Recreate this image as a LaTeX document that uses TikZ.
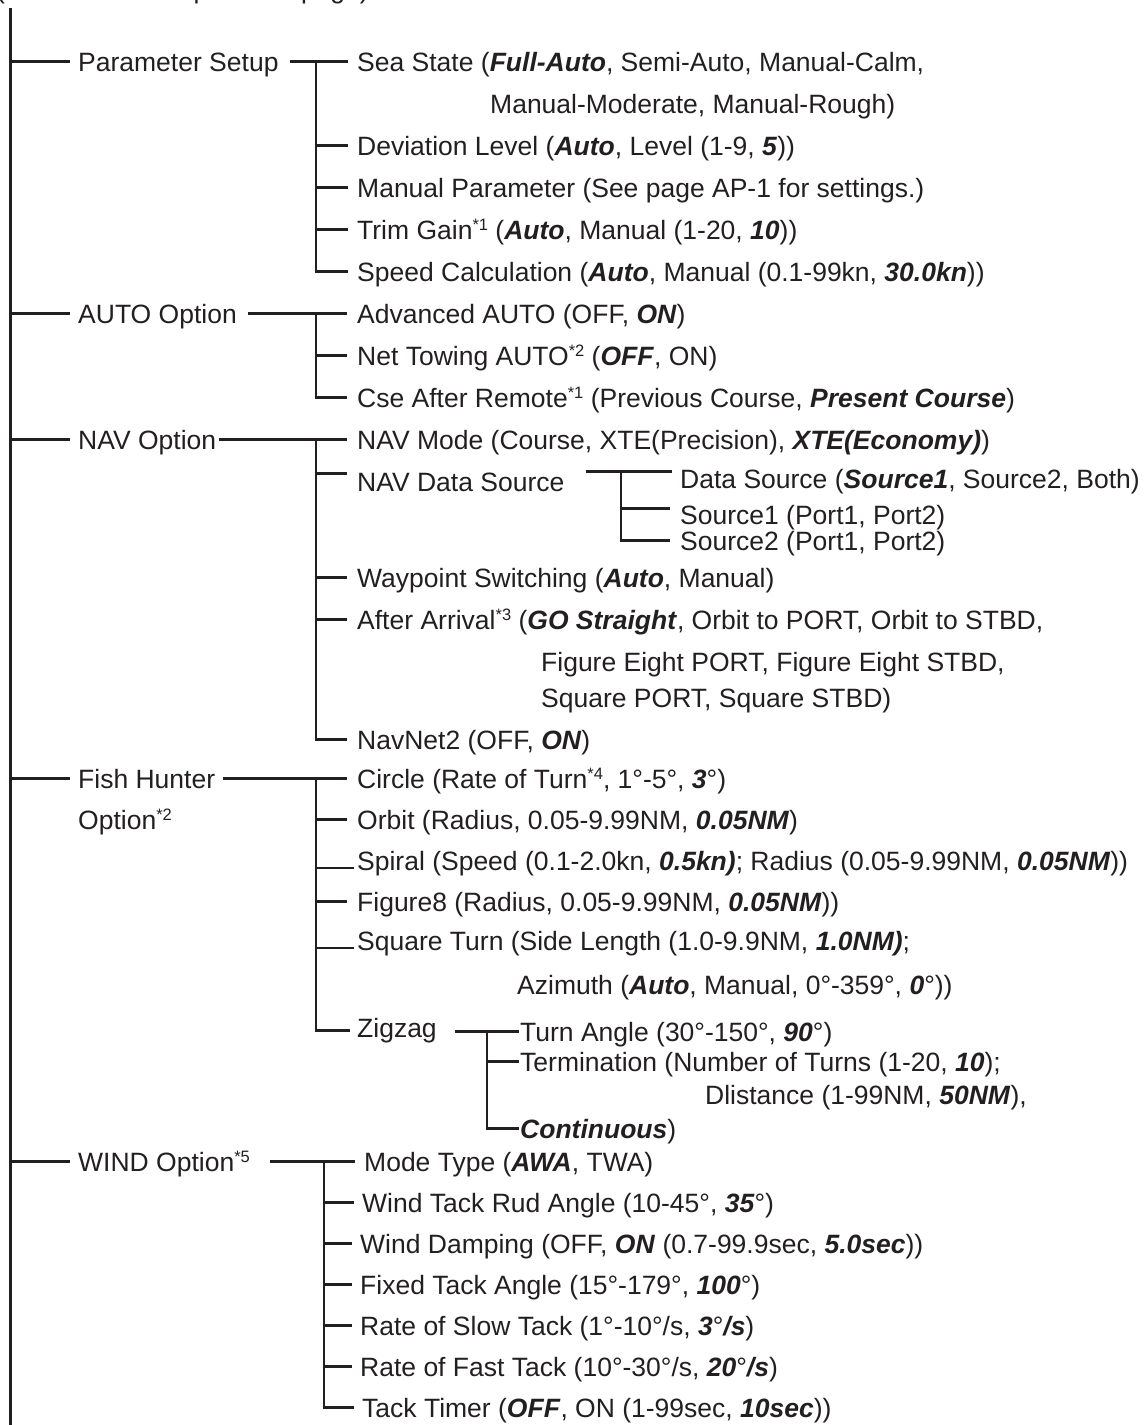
\documentclass[tikz,border=0pt]{standalone}
\usepackage{fontspec}
\setmainfont{Liberation Sans}
\newcommand{\bix}[1]{\textbf{\textit{#1}}}
\newcommand{\sn}[1]{\raisebox{8.5pt}{\fontsize{16.5}{16.5}\selectfont *#1}}
\definecolor{ink}{HTML}{231F20}
\begin{document}
\begin{tikzpicture}[x=1pt,y=-1pt,
  it/.style={anchor=base west, inner sep=0pt, text height=19pt, text depth=0pt,
    font=\fontsize{26.5}{30}\selectfont, text=ink},
  ln/.style={line width=2.3pt, draw=ink},
  trunkline/.style={line width=3pt, draw=ink}]
\useasboundingbox (0,0) rectangle (1146,1425);

% heading (mostly cut off by the page edge, as in the reference)
\node[it] (head) at (-4,-1.5) {(Continued from previous page)};

% main items
\node[it] (ps)    at (78,71)   {Parameter Setup};
\node[it] (auto)  at (78,323)  {AUTO Option};
\node[it] (nav)   at (78,449)  {NAV Option};
\node[it] (fish)  at (78,788)  {Fish Hunter};
\node[it] (fish2) at (78,829)  {Option\sn{2}};
\node[it] (wind)  at (78,1171) {WIND Option\sn{5}};

% parameter setup
\node[it] (sea)   at (357,71)  {Sea State (\bix{Full-Auto}, Semi-Auto, Manual-Calm,};
\node[it] (mm)    at (490,113) {Manual-Moderate, Manual-Rough)};
\node[it] (dev)   at (357,155) {Deviation Level (\bix{Auto}, Level (1-9, \bix{5}))};
\node[it] (manp)  at (357,197) {Manual Parameter (See page AP-1 for settings.)};
\node[it] (trim)  at (357,239) {Trim Gain\sn{1} (\bix{Auto}, Manual (1-20, \bix{10}))};
\node[it] (speed) at (357,281) {Speed Calculation (\bix{Auto}, Manual (0.1-99kn, \bix{30.0kn}))};

% auto option
\node[it] (adv) at (357,323) {Advanced AUTO (OFF, \bix{ON})};
\node[it] (net) at (357,365) {Net Towing AUTO\sn{2} (\bix{OFF}, ON)};
\node[it] (cse) at (357,407) {Cse After Remote\sn{1} (Previous Course, \bix{Present Course})};

% nav option
\node[it] (navm) at (357,449) {NAV Mode (Course, XTE(Precision), \bix{XTE(Economy)})};
\node[it] (nds)  at (357,491) {NAV Data Source};
\node[it] (ds)   at (680,488) {Data Source (\bix{Source1}, Source2, Both)};
\node[it] (s1)   at (680,524) {Source1 (Port1, Port2)};
\node[it] (s2)   at (680,550) {Source2 (Port1, Port2)};
\node[it] (wp)   at (357,587) {Waypoint Switching (\bix{Auto}, Manual)};
\node[it] (aa)   at (357,629) {After Arrival\sn{3} (\bix{GO Straight}, Orbit to PORT, Orbit to STBD,};
\node[it] (fe)   at (541,671) {Figure Eight PORT, Figure Eight STBD,};
\node[it] (sq)   at (541,707) {Square PORT, Square STBD)};
\node[it] (nn)   at (357,749) {NavNet2 (OFF, \bix{ON})};

% fish hunter
\node[it] (circ) at (357,788)  {Circle (Rate of Turn\sn{4}, 1°-5°, \bix{3}°)};
\node[it] (orb)  at (357,829)  {Orbit (Radius, 0.05-9.99NM, \bix{0.05NM})};
\node[it] (spi)  at (357,870)  {Spiral (Speed (0.1-2.0kn, \bix{0.5kn)}; Radius (0.05-9.99NM, \bix{0.05NM}))};
\node[it] (fig)  at (357,911)  {Figure8 (Radius, 0.05-9.99NM, \bix{0.05NM}))};
\node[it] (sqt)  at (357,950)  {Square Turn (Side Length (1.0-9.9NM, \bix{1.0NM)};};
\node[it] (azi)  at (517,994)  {Azimuth (\bix{Auto}, Manual, 0°-359°, \bix{0}°))};
\node[it] (zz)   at (357,1037) {Zigzag};
\node[it] (ta)   at (520,1041) {Turn Angle (30°-150°, \bix{90}°)};
\node[it] (term) at (520,1071) {Termination (Number of Turns (1-20, \bix{10});};
\node[it] (dl)   at (705,1104) {Dlistance (1-99NM, \bix{50NM}),};
\node[it] (cont) at (520,1138) {\bix{Continuous})};

% wind option
\node[it] (mt) at (364,1171) {Mode Type (\bix{AWA}, TWA)};
\node[it] (wt) at (362,1212) {Wind Tack Rud Angle (10-45°, \bix{35}°)};
\node[it] (wd) at (360,1253) {Wind Damping (OFF, \bix{ON} (0.7-99.9sec, \bix{5.0sec}))};
\node[it] (ft) at (360,1294) {Fixed Tack Angle (15°-179°, \bix{100}°)};
\node[it] (rs) at (360,1335) {Rate of Slow Tack (1°-10°/s, \bix{3}°\bix{/s})};
\node[it] (rf) at (360,1376) {Rate of Fast Tack (10°-30°/s, \bix{20}°\bix{/s})};
\node[it] (tt) at (362,1417) {Tack Timer (\bix{OFF}, ON (1-99sec, \bix{10sec}))};

% trunk coordinates
\coordinate (m0) at (10,8);
\coordinate (m1) at (10,1428);
\coordinate (pst) at (316,0);
\coordinate (wst) at (324,0);
\coordinate (dst) at (621,0);
\coordinate (zzt) at (487,0);

% main trunk and ticks
\draw[trunkline] (m0) -- (m1);
\foreach \n in {ps,auto,nav,fish,wind}
  \draw[ln] (\n.west -| m0) -- ([xshift=-8pt]\n.west);

% parameter setup branch
\draw[ln] ([xshift=11pt]ps.east) -- ([xshift=-9pt]sea.west);
\draw[ln] (sea.west -| pst) |- ([xshift=-9pt]speed.west);
\foreach \n in {dev,manp,trim}
  \draw[ln] (\n.west -| pst) -- ([xshift=-9pt]\n.west);

% auto branch
\draw[ln] ([xshift=11pt]auto.east) -- ([xshift=-10pt]adv.west);
\draw[ln] (adv.west -| pst) |- ([xshift=-10pt]cse.west);
\draw[ln] (net.west -| pst) -- ([xshift=-10pt]net.west);

% nav branch
\draw[ln] ([xshift=3pt]nav.east) -- ([xshift=-10pt]navm.west);
\draw[ln] (navm.west -| pst) |- ([xshift=-10pt]nn.west);
\draw[ln] ([yshift=8pt]nds.west -| pst) -- ([xshift=-10pt,yshift=8pt]nds.west);
\foreach \n in {wp,aa}
  \draw[ln] (\n.west -| pst) -- ([xshift=-10pt]\n.west);
\coordinate (dsl) at ([xshift=-8pt,yshift=7pt]ds.west);
\draw[ln] ([xshift=21pt]nds.east |- dsl) -- (dsl);
\draw[ln] (dsl -| dst) |- ([xshift=-10pt]s2.west);
\draw[ln] ([yshift=6pt]s1.west -| dst) -- ([xshift=-10pt,yshift=6pt]s1.west);

% fish hunter branch
\draw[ln] ([xshift=8pt]fish.east) -- ([xshift=-10pt]circ.west);
\draw[ln] (circ.west -| pst) |- ([xshift=-7pt,yshift=-3pt]zz.west);
\foreach \n in {orb,fig}
  \draw[ln] (\n.west -| pst) -- ([xshift=-10pt]\n.west);
\foreach \n in {spi,sqt}
  \draw[ln] ([yshift=2pt]\n.south west -| pst) -- ([xshift=-3pt,yshift=2pt]\n.south west);
\draw[ln] ([xshift=18pt]zz.east |- ta.west) -- ([xshift=-1pt]ta.west);
\draw[ln] (ta.west -| zzt) |- ([xshift=-1pt]cont.west);
\draw[ln] (term.west -| zzt) -- ([xshift=-1pt]term.west);

% wind branch
\draw[ln] ([xshift=20pt]wind.east) -- ([xshift=-9pt]mt.west);
\draw[ln] (mt.west -| wst) |- ([xshift=-8pt]tt.west);
\foreach \n in {wt,wd,ft,rs,rf}
  \draw[ln] (\n.west -| wst) -- ([xshift=-8pt]\n.west);
\end{tikzpicture}
\end{document}
